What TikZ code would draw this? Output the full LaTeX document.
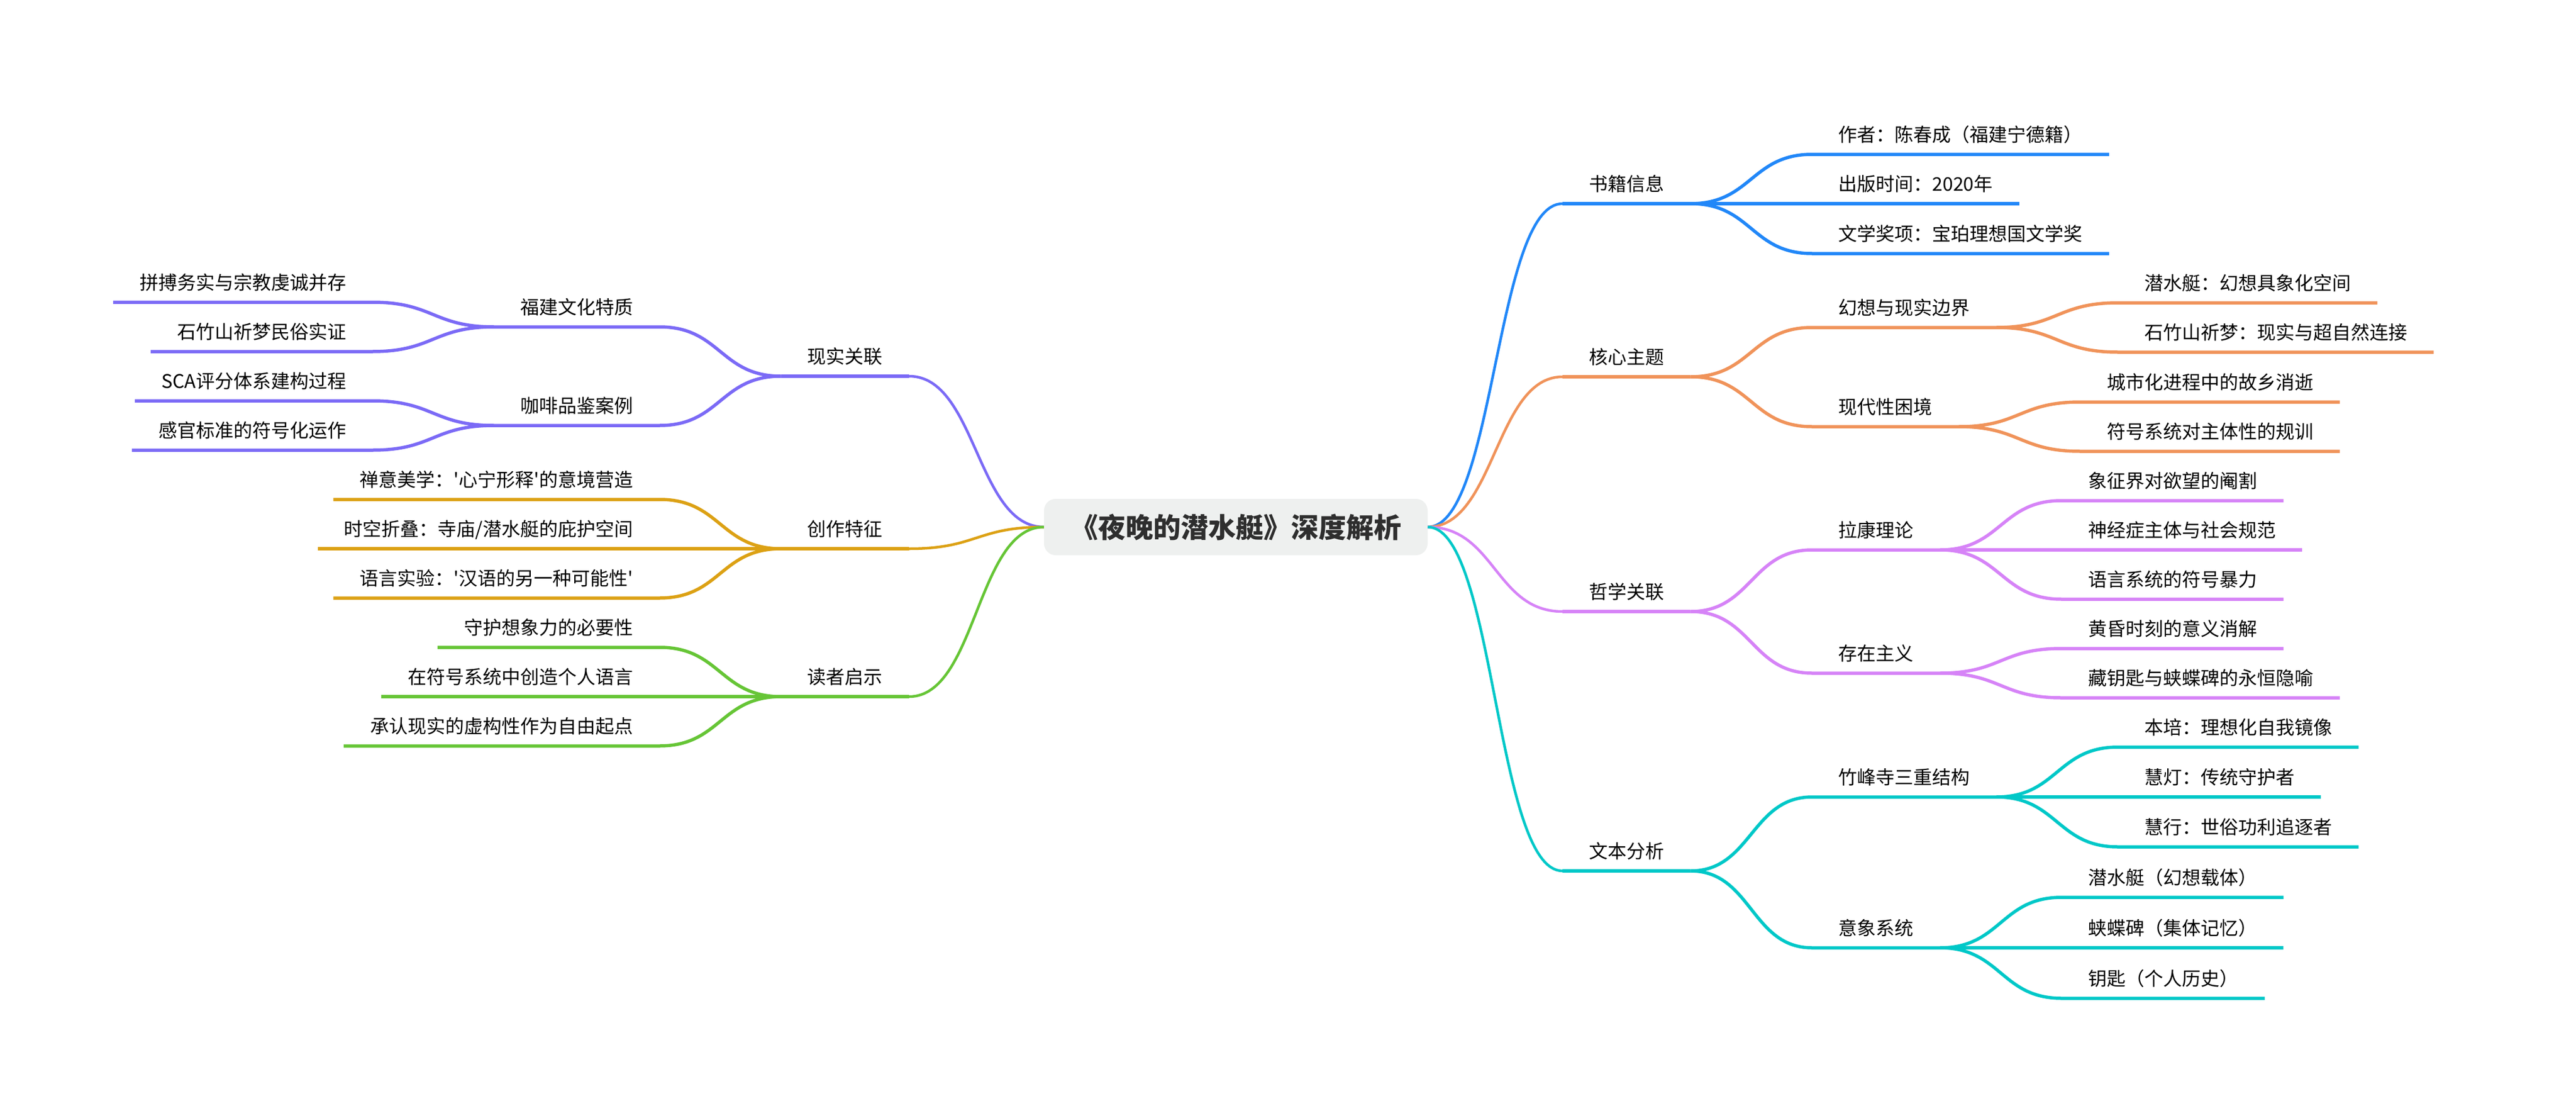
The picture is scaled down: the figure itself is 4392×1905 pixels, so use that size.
\documentclass[tikz,border=0pt]{standalone}
\usepackage{fontspec}
\newfontfamily\cjk{Noto Sans CJK SC}
\usetikzlibrary{calc}
\definecolor{cb}{HTML}{2187F8}
\definecolor{co}{HTML}{F0935A}
\definecolor{cp}{HTML}{D683F7}
\definecolor{ct}{HTML}{00C8C8}
\definecolor{cv}{HTML}{7B6AF6}
\definecolor{cg}{HTML}{DCA114}
\definecolor{cn}{HTML}{66C536}
\definecolor{rootfill}{HTML}{EEF0EF}
\definecolor{titletext}{HTML}{2E2E2E}
\tikzset{
  sc/.style={to path={let \p1=(\tikztostart), \p2=(\tikztotarget) in
      .. controls ({\x1+0.5*(\x2-\x1)},\y1) and ({\x2-0.5*(\x2-\x1)},\y2) .. (\tikztotarget)}},
  lbl/.style={inner xsep=45pt, inner ysep=21pt, text height=26pt, text depth=0pt,
      font=\cjk\fontsize{32}{38}\selectfont, text=black},
  rt/.style={lbl, anchor=south west},
  lt/.style={lbl, anchor=south east},
  br/.style={line width=5.5pt, draw=#1},
  lone/.style={line width=4.5pt, draw=#1},
}
\begin{document}
\begin{tikzpicture}[x=1pt,y=-1pt]
\path[fill=white, use as bounding box] (0,0) rectangle (4392,1905);

% root
\node[fill=rootfill, rounded corners=20pt, minimum width=654pt, minimum height=96pt,
  inner sep=0pt, font=\cjk\bfseries\fontsize{47}{56}\selectfont, text=titletext]
  (r) at (2107,898) {《夜晚的潜水艇》深度解析};

% ---------------- right side ----------------
\node[rt] (a1) at (2664,347) {书籍信息};
\node[rt] (a2) at (2664,642) {核心主题};
\node[rt] (a3) at (2664,1042) {哲学关联};
\node[rt] (a4) at (2664,1484) {文本分析};

\draw[lone=cb] (r.east) to[sc] (a1.south west);
\draw[lone=co] (r.east) to[sc] (a2.south west);
\draw[lone=cp] (r.east) to[sc] (a3.south west);
\draw[lone=ct] (r.east) to[sc] (a4.south west);
\draw[br=cb] (a1.south west) -- (a1.south east);
\draw[br=co] (a2.south west) -- (a2.south east);
\draw[br=cp] (a3.south west) -- (a3.south east);
\draw[br=ct] (a4.south west) -- (a4.south east);

% book info
\node[rt] (a11) at ($(a1.south east)+(207,-84)$) {作者：陈春成（福建宁德籍）};
\node[rt] (a12) at ($(a1.south east)+(207,0)$) {出版时间：2020年};
\node[rt] (a13) at ($(a1.south east)+(207,85)$) {文学奖项：宝珀理想国文学奖};
\draw[br=cb] (a1.south east) to[sc] (a11.south west) -- (a11.south east);
\draw[br=cb] (a1.south east) to[sc] (a12.south west) -- (a12.south east);
\draw[br=cb] (a1.south east) to[sc] (a13.south west) -- (a13.south east);

% core themes
\node[rt] (a21) at ($(a2.south east)+(207,-84)$) {幻想与现实边界};
\node[rt] (a22) at ($(a2.south east)+(207,85)$) {现代性困境};
\draw[br=co] (a2.south east) to[sc] (a21.south west) -- (a21.south east);
\draw[br=co] (a2.south east) to[sc] (a22.south west) -- (a22.south east);
\node[rt] (a211) at ($(a21.south east)+(207,-42)$) {潜水艇：幻想具象化空间};
\node[rt] (a212) at ($(a21.south east)+(207,42)$) {石竹山祈梦：现实与超自然连接};
\node[rt] (a221) at ($(a22.south east)+(207,-42)$) {城市化进程中的故乡消逝};
\node[rt] (a222) at ($(a22.south east)+(207,42)$) {符号系统对主体性的规训};
\draw[br=co] (a21.south east) to[sc] (a211.south west) -- (a211.south east);
\draw[br=co] (a21.south east) to[sc] (a212.south west) -- (a212.south east);
\draw[br=co] (a22.south east) to[sc] (a221.south west) -- (a221.south east);
\draw[br=co] (a22.south east) to[sc] (a222.south west) -- (a222.south east);

% philosophy
\node[rt] (a31) at ($(a3.south east)+(207,-105)$) {拉康理论};
\node[rt] (a32) at ($(a3.south east)+(207,105)$) {存在主义};
\draw[br=cp] (a3.south east) to[sc] (a31.south west) -- (a31.south east);
\draw[br=cp] (a3.south east) to[sc] (a32.south west) -- (a32.south east);
\node[rt] (a311) at ($(a31.south east)+(207,-84)$) {象征界对欲望的阉割};
\node[rt] (a312) at ($(a31.south east)+(207,0)$) {神经症主体与社会规范};
\node[rt] (a313) at ($(a31.south east)+(207,84)$) {语言系统的符号暴力};
\node[rt] (a321) at ($(a32.south east)+(207,-42)$) {黄昏时刻的意义消解};
\node[rt] (a322) at ($(a32.south east)+(207,42)$) {藏钥匙与蛱蝶碑的永恒隐喻};
\draw[br=cp] (a31.south east) to[sc] (a311.south west) -- (a311.south east);
\draw[br=cp] (a31.south east) to[sc] (a312.south west) -- (a312.south east);
\draw[br=cp] (a31.south east) to[sc] (a313.south west) -- (a313.south east);
\draw[br=cp] (a32.south east) to[sc] (a321.south west) -- (a321.south east);
\draw[br=cp] (a32.south east) to[sc] (a322.south west) -- (a322.south east);

% text analysis
\node[rt] (a41) at ($(a4.south east)+(207,-126)$) {竹峰寺三重结构};
\node[rt] (a42) at ($(a4.south east)+(207,131)$) {意象系统};
\draw[br=ct] (a4.south east) to[sc] (a41.south west) -- (a41.south east);
\draw[br=ct] (a4.south east) to[sc] (a42.south west) -- (a42.south east);
\node[rt] (a411) at ($(a41.south east)+(207,-85)$) {本培：理想化自我镜像};
\node[rt] (a412) at ($(a41.south east)+(207,0)$) {慧灯：传统守护者};
\node[rt] (a413) at ($(a41.south east)+(207,85)$) {慧行：世俗功利追逐者};
\node[rt] (a421) at ($(a42.south east)+(207,-86)$) {潜水艇（幻想载体）};
\node[rt] (a422) at ($(a42.south east)+(207,0)$) {蛱蝶碑（集体记忆）};
\node[rt] (a423) at ($(a42.south east)+(207,86)$) {钥匙（个人历史）};
\draw[br=ct] (a41.south east) to[sc] (a411.south west) -- (a411.south east);
\draw[br=ct] (a41.south east) to[sc] (a412.south west) -- (a412.south east);
\draw[br=ct] (a41.south east) to[sc] (a413.south west) -- (a413.south east);
\draw[br=ct] (a42.south east) to[sc] (a421.south west) -- (a421.south east);
\draw[br=ct] (a42.south east) to[sc] (a422.south west) -- (a422.south east);
\draw[br=ct] (a42.south east) to[sc] (a423.south west) -- (a423.south east);

% ---------------- left side ----------------
\node[lt] (b1) at (1550,641) {现实关联};
\node[lt] (b2) at (1550,935) {创作特征};
\node[lt] (b3) at (1550,1187) {读者启示};
\draw[lone=cv] (r.west) to[sc] (b1.south east);
\draw[lone=cg] (r.west) to[sc] (b2.south east);
\draw[lone=cn] (r.west) to[sc] (b3.south east);
\draw[br=cv] (b1.south east) -- (b1.south west);
\draw[br=cg] (b2.south east) -- (b2.south west);
\draw[br=cn] (b3.south east) -- (b3.south west);

% reality links
\node[lt] (b11) at ($(b1.south west)+(-207,-84)$) {福建文化特质};
\node[lt] (b12) at ($(b1.south west)+(-207,84)$) {咖啡品鉴案例};
\draw[br=cv] (b1.south west) to[sc] (b11.south east) -- (b11.south west);
\draw[br=cv] (b1.south west) to[sc] (b12.south east) -- (b12.south west);
\node[lt] (b111) at ($(b11.south west)+(-207,-42)$) {拼搏务实与宗教虔诚并存};
\node[lt] (b112) at ($(b11.south west)+(-207,42)$) {石竹山祈梦民俗实证};
\node[lt] (b121) at ($(b12.south west)+(-207,-42)$) {SCA评分体系建构过程};
\node[lt] (b122) at ($(b12.south west)+(-207,42)$) {感官标准的符号化运作};
\draw[br=cv] (b11.south west) to[sc] (b111.south east) -- (b111.south west);
\draw[br=cv] (b11.south west) to[sc] (b112.south east) -- (b112.south west);
\draw[br=cv] (b12.south west) to[sc] (b121.south east) -- (b121.south west);
\draw[br=cv] (b12.south west) to[sc] (b122.south east) -- (b122.south west);

% creative features
\node[lt] (b21) at ($(b2.south west)+(-207,-84)$) {禅意美学：'心宁形释'的意境营造};
\node[lt] (b22) at ($(b2.south west)+(-207,0)$) {时空折叠：寺庙/潜水艇的庇护空间};
\node[lt] (b23) at ($(b2.south west)+(-207,84)$) {语言实验：'汉语的另一种可能性'};
\draw[br=cg] (b2.south west) to[sc] (b21.south east) -- (b21.south west);
\draw[br=cg] (b2.south west) to[sc] (b22.south east) -- (b22.south west);
\draw[br=cg] (b2.south west) to[sc] (b23.south east) -- (b23.south west);

% reader insights
\node[lt] (b31) at ($(b3.south west)+(-207,-84)$) {守护想象力的必要性};
\node[lt] (b32) at ($(b3.south west)+(-207,0)$) {在符号系统中创造个人语言};
\node[lt] (b33) at ($(b3.south west)+(-207,84)$) {承认现实的虚构性作为自由起点};
\draw[br=cn] (b3.south west) to[sc] (b31.south east) -- (b31.south west);
\draw[br=cn] (b3.south west) to[sc] (b32.south east) -- (b32.south west);
\draw[br=cn] (b3.south west) to[sc] (b33.south east) -- (b33.south west);
\end{tikzpicture}
\end{document}
